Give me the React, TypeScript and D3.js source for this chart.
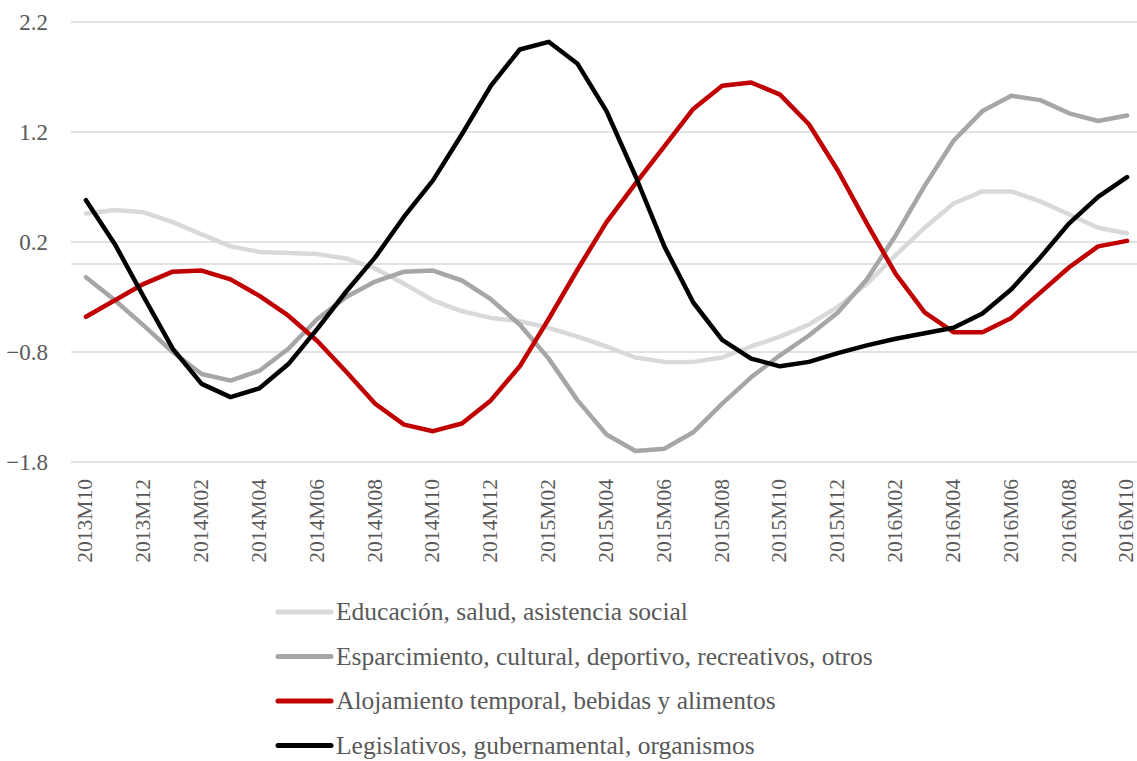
import React from 'react';
import * as d3 from 'd3';

const months = [
  '2013M10', '2013M11', '2013M12',
  '2014M01', '2014M02', '2014M03', '2014M04', '2014M05', '2014M06', '2014M07', '2014M08', '2014M09', '2014M10', '2014M11', '2014M12',
  '2015M01', '2015M02', '2015M03', '2015M04', '2015M05', '2015M06', '2015M07', '2015M08', '2015M09', '2015M10', '2015M11', '2015M12',
  '2016M01', '2016M02', '2016M03', '2016M04', '2016M05', '2016M06', '2016M07', '2016M08', '2016M09', '2016M10',
];

const educacion = [
  0.46, 0.49, 0.47, 0.38, 0.27, 0.16, 0.11, 0.10, 0.09, 0.05, -0.04,
  -0.18, -0.33, -0.43, -0.49, -0.52, -0.58, -0.66, -0.75, -0.85, -0.89, -0.89, -0.85, -0.75,
  -0.66, -0.55, -0.39, -0.18, 0.08, 0.33, 0.55, 0.66, 0.66, 0.57, 0.45, 0.33, 0.28,
];

const esparcimiento = [
  -0.12, -0.33, -0.56, -0.80, -1.00, -1.06, -0.97, -0.77, -0.50, -0.30, -0.16,
  -0.07, -0.06, -0.15, -0.32, -0.55, -0.86, -1.24, -1.55, -1.70, -1.68, -1.53, -1.27, -1.03,
  -0.83, -0.65, -0.44, -0.14, 0.26, 0.71, 1.12, 1.39, 1.53, 1.49, 1.37, 1.30, 1.35,
];

const alojamiento = [
  -0.48, -0.33, -0.18, -0.07, -0.06, -0.14, -0.29, -0.47, -0.70, -0.98, -1.27,
  -1.46, -1.52, -1.45, -1.24, -0.93, -0.50, -0.05, 0.38, 0.73, 1.07, 1.41, 1.62, 1.65,
  1.54, 1.27, 0.85, 0.37, -0.09, -0.44, -0.62, -0.62, -0.49, -0.26, -0.03, 0.16, 0.21,
];

const legislativos = [
  0.58, 0.18, -0.30, -0.77, -1.09, -1.21, -1.13, -0.91, -0.59, -0.25, 0.06,
  0.43, 0.76, 1.18, 1.62, 1.95, 2.02, 1.82, 1.39, 0.80, 0.16, -0.35, -0.69, -0.86,
  -0.93, -0.89, -0.81, -0.74, -0.68, -0.63, -0.58, -0.45, -0.23, 0.06, 0.37, 0.61, 0.79,
];

const seriesNames = [
  'Educación, salud, asistencia social',
  'Esparcimiento, cultural, deportivo, recreativos, otros',
  'Alojamiento temporal, bebidas y alimentos',
  'Legislativos, gubernamental, organismos',
];
const seriesColors = ['#d9d9d9', '#a6a6a6', '#c00000', '#000000'];
const seriesValues = [educacion, esparcimiento, alojamiento, legislativos];

const yTicks = [-1.8, -0.8, 0.2, 1.2, 2.2];

const W = 1137;
const H = 761;
const FONT = '"Liberation Serif", "DejaVu Serif", serif';

export default function App() {
  const x = d3.scalePoint<string>().domain(months).range([71.5, 1141.5]).padding(0.5);
  const y = d3.scaleLinear().domain([-1.8, 2.2]).range([462, 22]);

  const line = d3.line<number>()
    .x((d, i) => x(months[i]) as number)
    .y(d => y(d));

  // every other month gets a label
  const labelMonths = months.filter((m, i) => i % 2 === 0);

  return (
    <div style={{ position: 'absolute', left: 0, top: 0 }}>
      <svg width={W} height={H} style={{ display: 'block', background: '#fff' }}>
        {yTicks.concat([0]).map(t => (
          <line key={'g' + t} x1={71} x2={1141} y1={y(t)} y2={y(t)} stroke="#d9d9d9" strokeWidth={1.3} />
        ))}
        {yTicks.map(t => (
          <text key={'yt' + t} x={48} y={y(t)} dy="0.35em" textAnchor="end"
            fontFamily={FONT} fontSize={23} fill="#595959">{d3.format('.1f')(t)}</text>
        ))}
        {labelMonths.map(m => (
          <text key={m} transform={`translate(${x(m)},479) rotate(-90)`} dy="0.3em" textAnchor="end"
            fontFamily={FONT} fontSize={21.5} fill="#595959">{m}</text>
        ))}

        {seriesValues.map((vals, k) => (
          <path key={'s' + k} d={line(vals) || ''} fill="none" stroke={seriesColors[k]}
            strokeWidth={4.5} strokeLinejoin="round" strokeLinecap="round" />
        ))}

        {seriesNames.map((name, k) => {
          const ly = 612 + k * 44.5;
          return (
            <g key={'l' + k}>
              <line x1={278} x2={331} y1={ly} y2={ly} stroke={seriesColors[k]} strokeWidth={5} strokeLinecap="round" />
              <text x={336} y={ly} dy="0.33em" fontFamily={FONT} fontSize={25.5} fill="#595959">{name}</text>
            </g>
          );
        })}
      </svg>
    </div>
  );
}
